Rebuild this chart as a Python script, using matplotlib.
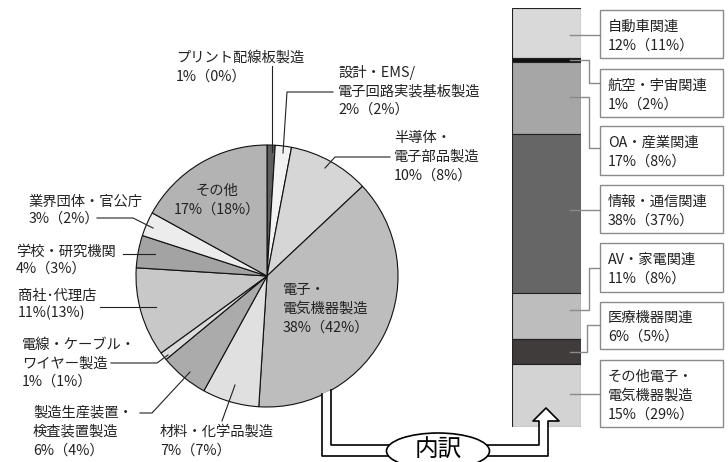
import matplotlib
matplotlib.use("Agg")
import matplotlib.pyplot as plt
from matplotlib.patches import Ellipse, Rectangle, Polygon

plt.rcParams["font.family"] = ["Noto Sans CJK JP", "DejaVu Sans"]

# pie: clockwise from 12 o'clock
pie_names = [
    "プリント配線板製造", "設計・EMS/\n電子回路実装基板製造", "半導体・\n電子部品製造",
    "電子・\n電気機器製造", "材料・化学品製造", "製造生産装置・\n検査装置製造",
    "電線・ケーブル・\nワイヤー製造", "商社･代理店", "学校・研究機関",
    "業界団体・官公庁", "その他",
]
pie_now = [1, 2, 10, 38, 7, 6, 1, 11, 4, 3, 17]
pie_prev = [0, 2, 8, 42, 7, 4, 1, 13, 3, 2, 18]
pie_colors = ["#5f5f5f", "#f2f2f2", "#d6d6d6", "#bdbdbd", "#e0e0e0", "#ababab",
              "#dcdcdc", "#c8c8c8", "#a3a3a3", "#ececec", "#b3b3b3"]

# breakdown of 電子・電気機器製造, top to bottom
bar_names = ["自動車関連", "航空・宇宙関連", "OA・産業関連", "情報・通信関連",
             "AV・家電関連", "医療機器関連", "その他電子・\n電気機器製造"]
bar_now = [12, 1, 17, 38, 11, 6, 15]
bar_prev = [11, 2, 8, 37, 8, 5, 29]
bar_colors = ["#d9d9d9", "#111111", "#a6a6a6", "#666666", "#bdbdbd", "#403c3c", "#d3d3d3"]

W, H = 728, 462
fig = plt.figure(figsize=(W / 100, H / 100), dpi=100)

# pie axes (pixel box centred at 267,276 radius 131)
cx, cy, r = 267, 276, 131
pax = fig.add_axes([(cx - r) / W, (H - cy - r) / H, 2 * r / W, 2 * r / H])
wedges, _ = pax.pie(pie_now, colors=pie_colors, startangle=90, counterclock=False,
                    radius=1, wedgeprops=dict(edgecolor="#111", linewidth=0.8))
for w in wedges:
    w.set_clip_on(False)
pax.set_xlim(-1, 1)
pax.set_ylim(-1, 1)

# stacked bar axes
bax = fig.add_axes([512 / W, (H - 427) / H, 69 / W, 419 / H])
bottom = 0
for v, c in zip(bar_now, bar_colors):
    bax.bar(0, v, bottom=bottom, width=1, color=c, edgecolor="#222", linewidth=0.8)
    bottom += v
bax.set_xlim(-0.5, 0.5)
bax.set_ylim(100, 0)
bax.axis("off")

# overlay in pixel coords
ax = fig.add_axes([0, 0, 1, 1])
ax.set_xlim(0, W)
ax.set_ylim(H, 0)
ax.axis("off")
ax.patch.set_alpha(0)
ax.set_zorder(5)

fs = 10.3


def put_lines(lines, x, y, pitch=19, ha="left"):
    for k, s in enumerate(lines):
        ax.text(x, y + k * pitch, s, fontsize=fs, ha=ha, va="center", color="#222")


def lbl(i, x, y, pitch=19, ha="left", narrow=False):
    pct = f"{pie_now[i]}%({pie_prev[i]}%)" if narrow else f"{pie_now[i]}%（{pie_prev[i]}%）"
    lines = pie_names[i].split("\n") + [pct]
    put_lines(lines, x, y, pitch, ha)


lbl(0, 176, 58)
lbl(1, 338, 72, 19)
lbl(2, 394, 138)
lbl(3, 283, 290)
lbl(4, 160, 432)
lbl(5, 33, 412, 19.5)
lbl(6, 22, 345, 18.5)
lbl(7, 18, 296, 16.5, narrow=True)
lbl(8, 16, 252, 16.5)
lbl(9, 29, 202, 16.5)
lbl(10, 217, 191, 19, ha="center")

leader = dict(color="#222", lw=0.8)
ax.plot([272, 272], [66, 152], **leader)
ax.plot([333, 287, 283], [92, 92, 153], **leader)
ax.plot([390, 335, 325], [157, 157, 168], **leader)
ax.plot([222, 235], [421, 385], **leader)
ax.plot([140, 152, 190], [413, 413, 372], **leader)
ax.plot([111, 157, 168], [363, 363, 355], **leader)
ax.plot([100, 156], [307, 307], **leader)
ax.plot([123, 155], [254, 254], **leader)
ax.plot([97, 133, 153], [218, 218, 228], **leader)

# legend boxes for the bar
boxes = [(10, 58), (69, 117), (126, 175), (185, 233), (243, 292), (302, 349), (360, 427)]
for (y0, y1), name, a, b in zip(boxes, bar_names, bar_now, bar_prev):
    ax.add_patch(Rectangle((600, y0), 123, y1 - y0, facecolor="white",
                           edgecolor="#8a8a8a", lw=1.0))
    lines = name.split("\n") + [f"{a}%（{b}%）"]
    first = (y0 + y1) / 2 - (len(lines) - 1) * 19 / 2 + 2
    put_lines(lines, 608, first, 19)

conn = dict(color="#8a8a8a", lw=1.0)
ax.plot([570, 600], [35, 35], **conn)
ax.plot([570, 589, 589, 600], [60, 60, 83, 83], **conn)
ax.plot([570, 589, 589, 600], [97, 97, 148, 148], **conn)
ax.plot([570, 600], [210, 210], **conn)
ax.plot([570, 589, 589, 600], [310, 310, 268, 268], **conn)
ax.plot([570, 587, 587, 600], [352, 352, 325, 325], **conn)
ax.plot([570, 600], [394, 394], **conn)

# hollow arrow from the pie to the bar
path_x = [322, 322, 548, 548, 559, 546, 533, 539, 539, 331, 331]
path_y = [394, 456, 456, 421, 421, 408, 421, 421, 445, 445, 390]
ax.add_patch(Polygon(list(zip(path_x, path_y)), closed=True, facecolor="white",
                     edgecolor="none", zorder=2))
ax.plot(path_x, path_y, color="black", lw=1.2, zorder=3)
ax.add_patch(Ellipse((438, 451), 103, 36, facecolor="white", edgecolor="black",
                     lw=1.2, zorder=4))
ax.text(438, 450, "内訳", fontsize=17, ha="center", va="center", zorder=5)

fig.savefig("out.png", dpi=100)
